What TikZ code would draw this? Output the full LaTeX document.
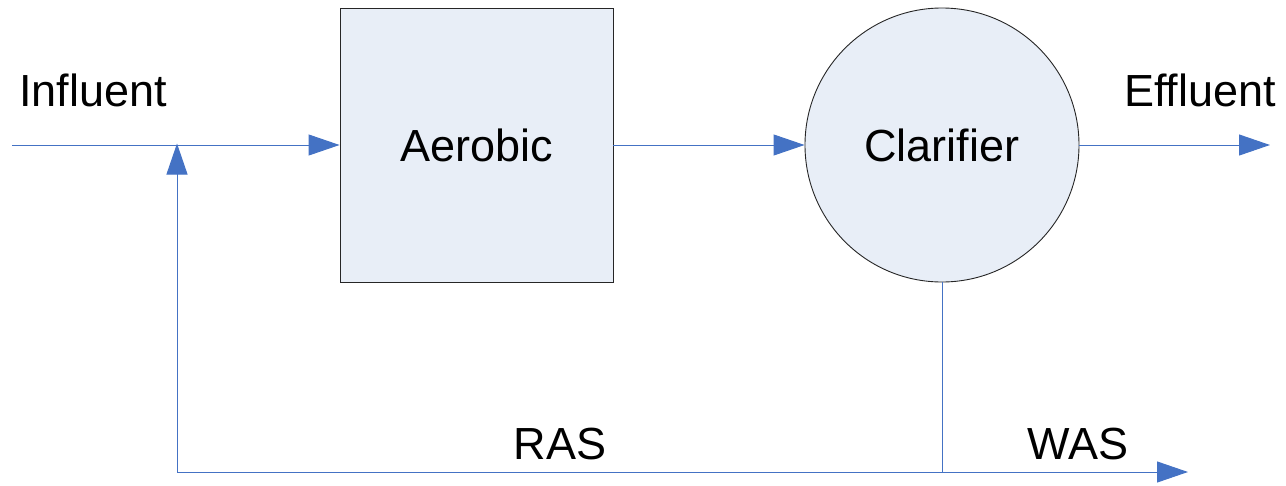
\documentclass[tikz,border=0pt]{standalone}
\usepackage{fontspec}
\setmainfont{Liberation Sans}
\usetikzlibrary{arrows.meta}
\definecolor{flow}{HTML}{4472C4}
\definecolor{unitfill}{HTML}{E8EEF7}
\begin{document}
\begin{tikzpicture}[x=1pt,y=-1pt,
  flowline/.style={draw=flow,line width=1pt},
  flowarrow/.style={flowline,-{Triangle[length=31pt,width=21pt]}},
  unit/.style={draw=black!85,fill=unitfill,line width=0.9pt,font=\fontsize{45}{54}\selectfont},
  lbl/.style={font=\fontsize{45}{54}\selectfont,inner sep=0pt}]
\useasboundingbox (0,0) rectangle (1286,485);
\node[unit,minimum width=273pt,minimum height=274pt,inner sep=0pt] (aer) at (476.5,145) {Aerobic};
\node[unit,circle,minimum size=274pt,inner sep=0pt] (cla) at (942,145) {Clarifier};
\coordinate (inS) at (12,145);
\coordinate (mix) at (177,145);
\coordinate (retC) at (177,472);
\coordinate (split) at (942,472);
\coordinate (effE) at (1270,145);
\coordinate (wasE) at (1188,472);
\node[lbl] (infl) at (93,90) {Influent};
\node[lbl] (effl) at (1200,90) {Effluent};
\node[lbl] (ras) at (560,444) {RAS};
\node[lbl] (was) at (1078,444) {WAS};
\draw[flowarrow] (inS) -- (aer.west);
\draw[flowarrow] (aer.east) -- (cla.west);
\draw[flowarrow] (cla.east) -- (effE);
\draw[flowline] (cla.south) -- (split);
\draw[flowarrow] (retC) -- (wasE);
\draw[flowarrow] (retC) -- ([yshift=1.5pt]mix);
\end{tikzpicture}
\end{document}
